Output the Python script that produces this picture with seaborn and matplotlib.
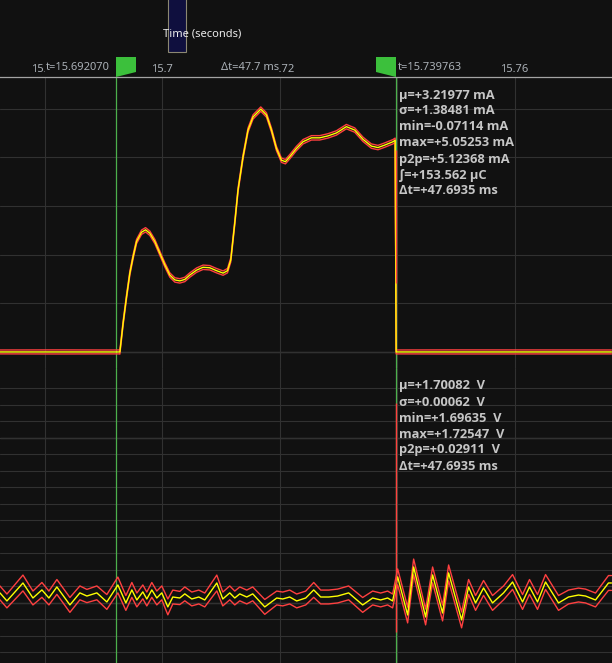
import matplotlib
matplotlib.use("Agg")
import matplotlib.pyplot as plt
import seaborn as sns
import pandas as pd
from matplotlib.path import Path
from matplotlib.patches import Rectangle
from matplotlib import transforms

# ---------------- data ----------------
time_ticks = [15.68, 15.70, 15.72, 15.74, 15.76]
time_range = [15.67235, 15.77660]
cursor_times = [15.692070, 15.739763]
cursor_labels = ["t=15.692070", "t=15.739763"]
delta_label = "Δt=47.7 ms"
axis_title = "Time (seconds)"

current_stats = ["μ=+3.21977 mA", "σ=+1.38481 mA", "min=-0.07114 mA",
                 "max=+5.05253 mA", "p2p=+5.12368 mA", "∫=+153.562 μC",
                 "Δt=+47.6935 ms"]
voltage_stats = ["μ=+1.70082  V", "σ=+0.00062  V", "min=+1.69635  V",
                 "max=+1.72547  V", "p2p=+0.02911  V", "Δt=+47.6935 ms"]

# current channel (mA)
i_time = [15.67234, 15.68255, 15.68936, 15.69260, 15.69277, 15.69333, 15.69391,
          15.69447, 15.69503, 15.69561, 15.69646, 15.69714, 15.69787, 15.69872,
          15.69957, 15.70043, 15.70128, 15.70213, 15.70298, 15.70383, 15.70468,
          15.70582, 15.70694, 15.70809, 15.70923, 15.71035, 15.71110, 15.71166,
          15.71234, 15.71290, 15.71375, 15.71460, 15.71546, 15.71677, 15.71774,
          15.71859, 15.71944, 15.72029, 15.72097, 15.72170, 15.72284, 15.72397,
          15.72540, 15.72681, 15.72822, 15.72965, 15.73135, 15.73277, 15.73418,
          15.73561, 15.73673, 15.73787, 15.73929, 15.73966, 15.73983, 15.74894,
          15.77651]
i_mean = [0.00, 0.00, 0.00, 0.00, 0.00, 0.60, 1.14, 1.62, 1.96, 2.27, 2.46, 2.51,
          2.44, 2.27, 2.03, 1.79, 1.58, 1.48, 1.46, 1.49, 1.58, 1.68, 1.74, 1.73,
          1.67, 1.62, 1.67, 1.89, 2.65, 3.33, 4.01, 4.56, 4.83, 4.99, 4.87, 4.56,
          4.18, 3.94, 3.91, 4.01, 4.18, 4.32, 4.40, 4.40, 4.44, 4.50, 4.63, 4.56,
          4.37, 4.23, 4.20, 4.25, 4.32, 4.35, 0.00, 0.00, 0.00]
i_spread = [0.040, 0.042, 0.040, 0.040, 0.045, 0.045, 0.045, 0.045, 0.045, 0.045,
            0.045, 0.045, 0.045, 0.045, 0.045, 0.045, 0.045, 0.045, 0.045, 0.045,
            0.045, 0.045, 0.045, 0.045, 0.045, 0.045, 0.045, 0.045, 0.045, 0.045,
            0.045, 0.045, 0.045, 0.045, 0.045, 0.045, 0.045, 0.045, 0.045, 0.045,
            0.045, 0.045, 0.045, 0.045, 0.045, 0.045, 0.045, 0.045, 0.045, 0.045,
            0.045, 0.045, 0.045, 0.045, 0.040, 0.042, 0.040]
i_grid = [0, 1, 2, 3, 4, 5]
i_major = [0]
i_range = [-0.33, 5.65]
i_drop_time = [15.73975]
i_drop_lo = [1.42]
i_drop_hi = [4.15]

# voltage channel (V)
v_time = [15.67234, 15.67353, 15.67626, 15.67796, 15.67949, 15.68068, 15.68204,
          15.68426, 15.68596, 15.68715, 15.68885, 15.69055, 15.69243, 15.69379,
          15.69481, 15.69566, 15.69668, 15.69736, 15.69821, 15.69906, 15.69991,
          15.70094, 15.70179, 15.70298, 15.70383, 15.70502, 15.70621, 15.70723,
          15.70928, 15.71030, 15.71149, 15.71234, 15.71319, 15.71438, 15.71540,
          15.71745, 15.71949, 15.72051, 15.72170, 15.72289, 15.72443, 15.72579,
          15.72698, 15.72834, 15.72987, 15.73174, 15.73413, 15.73583, 15.73719,
          15.73838, 15.73923, 15.74009, 15.74179, 15.74281, 15.74485, 15.74604,
          15.74774, 15.74877, 15.75098, 15.75217, 15.75336, 15.75472, 15.75625,
          15.75813, 15.75966, 15.76136, 15.76255, 15.76391, 15.76528, 15.76749,
          15.76919, 15.77089, 15.77208, 15.77379, 15.77600, 15.77651]
v_mean = [1.7061, 1.7012, 1.7121, 1.7030, 1.7079, 1.7030, 1.7097, 1.6988, 1.7061,
          1.7042, 1.7061, 1.7006, 1.7109, 1.7000, 1.7079, 1.7018, 1.7067, 1.7024,
          1.7079, 1.7030, 1.7061, 1.6976, 1.7036, 1.7030, 1.7055, 1.7024, 1.7036,
          1.7018, 1.7121, 1.7024, 1.7061, 1.7030, 1.7055, 1.7036, 1.7055, 1.6976,
          1.7030, 1.7024, 1.7036, 1.7012, 1.7030, 1.7079, 1.7036, 1.7036, 1.7042,
          1.7061, 1.6988, 1.7030, 1.7018, 1.7030, 1.7012, 1.7158, 1.6927, 1.7218,
          1.6915, 1.7170, 1.6939, 1.7182, 1.6897, 1.7097, 1.7000, 1.7091, 1.7000,
          1.7061, 1.7127, 1.7006, 1.7097, 1.7006, 1.7127, 1.7000, 1.7036, 1.7048,
          1.7042, 1.7018, 1.7121, 1.7121]
v_spread = [0.0042, 0.0042, 0.0048, 0.0042, 0.0045, 0.0042, 0.0045, 0.0045, 0.0042,
            0.0040, 0.0042, 0.0045, 0.0048, 0.0045, 0.0045, 0.0042, 0.0042, 0.0042,
            0.0045, 0.0042, 0.0042, 0.0048, 0.0042, 0.0040, 0.0042, 0.0042, 0.0042,
            0.0042, 0.0048, 0.0042, 0.0042, 0.0042, 0.0042, 0.0042, 0.0042, 0.0045,
            0.0042, 0.0042, 0.0042, 0.0042, 0.0042, 0.0045, 0.0042, 0.0042, 0.0042,
            0.0042, 0.0045, 0.0042, 0.0042, 0.0042, 0.0042, 0.0048, 0.0048, 0.0048,
            0.0048, 0.0048, 0.0048, 0.0048, 0.0048, 0.0045, 0.0045, 0.0045, 0.0045,
            0.0042, 0.0045, 0.0045, 0.0045, 0.0045, 0.0045, 0.0045, 0.0042, 0.0042,
            0.0042, 0.0042, 0.0045, 0.0045]
v_grid = [1.67, 1.68, 1.69, 1.70, 1.71, 1.72, 1.73, 1.74, 1.75, 1.76, 1.77, 1.78,
          1.79, 1.80, 1.81, 1.82, 1.83]
v_major = [1.70, 1.80]
v_range = [1.6636, 1.8424]
v_drop_time = [15.73977]
v_drop_lo = [1.6824]
v_drop_hi = [1.8212]

# ---------------- style ----------------
BG = "#111111"
GRID = "#313131"
GRID_MAJOR = "#565656"
YELLOW = "#ffff00"
RED = "#ff4040"
GREEN_LINE = "#4cb04c"
GREEN_FLAG = "#3cc03c"
TICK_COLOR = "#aab0b6"
STAT_COLOR = "#c6c6c6"

sns.set_theme(style="dark")
plt.rcParams.update({
    "font.family": ["Noto Sans", "DejaVu Sans"],
    "figure.facecolor": BG,
    "axes.facecolor": BG,
    "savefig.facecolor": BG,
    "axes.edgecolor": BG,
})
STAT_FONT = ["Open Sans", "DejaVu Sans"]

W, H = 612, 663
fig = plt.figure(figsize=(W / 100, H / 100), dpi=100)
hdr = 77
split = 368
ax1 = fig.add_axes([0, (H - split) / H, 1, (split - hdr) / H])
ax2 = fig.add_axes([0, 0, 1, (H - split) / H])

df_i = pd.DataFrame({"t": i_time, "mean": i_mean, "spread": i_spread})
df_i["lo"] = df_i["mean"] - df_i["spread"]
df_i["hi"] = df_i["mean"] + df_i["spread"]
df_v = pd.DataFrame({"t": v_time, "mean": v_mean, "spread": v_spread})
df_v["lo"] = df_v["mean"] - df_v["spread"]
df_v["hi"] = df_v["mean"] + df_v["spread"]

for ax, df, grid, major, yr, dt, dlo, dhi in [
        (ax1, df_i, i_grid, i_major, i_range, i_drop_time, i_drop_lo, i_drop_hi),
        (ax2, df_v, v_grid, v_major, v_range, v_drop_time, v_drop_lo, v_drop_hi)]:
    ax.set_facecolor(BG)
    ax.set_xlim(time_range)
    ax.set_ylim(yr)
    ax.set_xticks(time_ticks)
    ax.set_yticks(grid)
    ax.grid(True, color=GRID, lw=0.8, zorder=0)
    ax.set_axisbelow(True)
    for y in major:
        ax.axhline(y, color=GRID_MAJOR, lw=0.9, zorder=0.5)
    for t in cursor_times:
        ax.axvline(t, color=GREEN_LINE, lw=0.9, zorder=1)
    sns.lineplot(data=df, x="t", y="lo", ax=ax, color=RED, lw=1.0,
                 sort=False, estimator=None, zorder=2, legend=False)
    sns.lineplot(data=df, x="t", y="hi", ax=ax, color=RED, lw=1.0,
                 sort=False, estimator=None, zorder=2, legend=False)
    sns.lineplot(data=df, x="t", y="mean", ax=ax, color=YELLOW, lw=1.0,
                 sort=False, estimator=None, zorder=3, legend=False)
    ax.vlines(dt, dlo, dhi, color=RED, lw=1.0, zorder=4)
    ax.set_xlabel("")
    ax.set_ylabel("")
    ax.tick_params(axis="y", left=False, labelleft=False, length=0)
    for s in ax.spines.values():
        s.set_visible(False)

ax2.tick_params(axis="x", bottom=False, labelbottom=False, length=0)
ax1.tick_params(axis="x", bottom=False, labelbottom=False, top=True,
                labeltop=True, length=0, pad=1.5, labelcolor=TICK_COLOR,
                labelsize=8)
ax1.xaxis.set_major_formatter(matplotlib.ticker.FormatStrFormatter("%g"))
ax1.spines["top"].set_visible(True)
ax1.spines["top"].set_color("#a4a4a4")
ax1.spines["top"].set_linewidth(0.9)

# header: axis title and scroll thumb
fig.add_artist(Rectangle((168 / W, 1 - 52 / H), 18 / W, 52 / H + 0.01,
                         transform=fig.transFigure, fc="#0f0f3e",
                         ec="#8c8872", lw=0.8, zorder=-1))
ax1.set_xlabel(axis_title, color="#ececec", fontsize=8)
ax1.xaxis.set_label_position("top")
ax1.xaxis.set_label_coords(202 / W, 1 + (hdr - 34) / (split - hdr))
ax1.xaxis.label.set_verticalalignment("center")

blend = transforms.blended_transform_factory(ax1.transData, ax1.transAxes)
flag_r = Path([(0, 0), (0, 20), (20, 20), (20, 5), (0, 0)],
              [Path.MOVETO, Path.LINETO, Path.LINETO, Path.LINETO, Path.CLOSEPOLY])
flag_l = Path([(0, 0), (0, 20), (-20, 20), (-20, 5), (0, 0)],
              [Path.MOVETO, Path.LINETO, Path.LINETO, Path.LINETO, Path.CLOSEPOLY])
for t, mk in zip(cursor_times, [flag_r, flag_l]):
    ax1.plot([t], [1.0], transform=blend, marker=mk, ms=28.8, mfc=GREEN_FLAG,
             mec="none", mew=0, ls="none", clip_on=False, zorder=6)

box = dict(boxstyle="square,pad=0.12", fc=BG, ec="none")
ax1.annotate(cursor_labels[0], xy=(cursor_times[0], 1.0), xycoords=blend,
             xytext=(-6, 9), textcoords="offset pixels", ha="right", va="center",
             color=TICK_COLOR, fontsize=8, bbox=box, zorder=7, annotation_clip=False)
ax1.annotate(cursor_labels[1], xy=(cursor_times[1], 1.0), xycoords=blend,
             xytext=(2, 9), textcoords="offset pixels", ha="left", va="center",
             color=TICK_COLOR, fontsize=8, bbox=box, zorder=7, annotation_clip=False)
ax1.annotate(delta_label, xy=((cursor_times[0] + cursor_times[1]) / 2, 1.0),
             xycoords=blend, xytext=(-6, 9), textcoords="offset pixels",
             ha="center", va="center", color=TICK_COLOR, fontsize=8,
             bbox=dict(boxstyle="square,pad=0.05", fc=BG, ec="none"),
             zorder=7, annotation_clip=False)

# statistics
for ax, lines in [(ax1, current_stats), (ax2, voltage_stats)]:
    bl = transforms.blended_transform_factory(ax.transData, ax.transAxes)
    for k, line in enumerate(lines):
        ax.annotate(line, xy=(cursor_times[1], 1.0), xycoords=bl,
                    xytext=(3, -18 - 16 * k), textcoords="offset pixels",
                    ha="left", va="center", color=STAT_COLOR, fontsize=9.3,
                    fontweight="bold", family=STAT_FONT, zorder=8,
                    annotation_clip=False)

fig.savefig("out.png", dpi=100, facecolor=BG)
